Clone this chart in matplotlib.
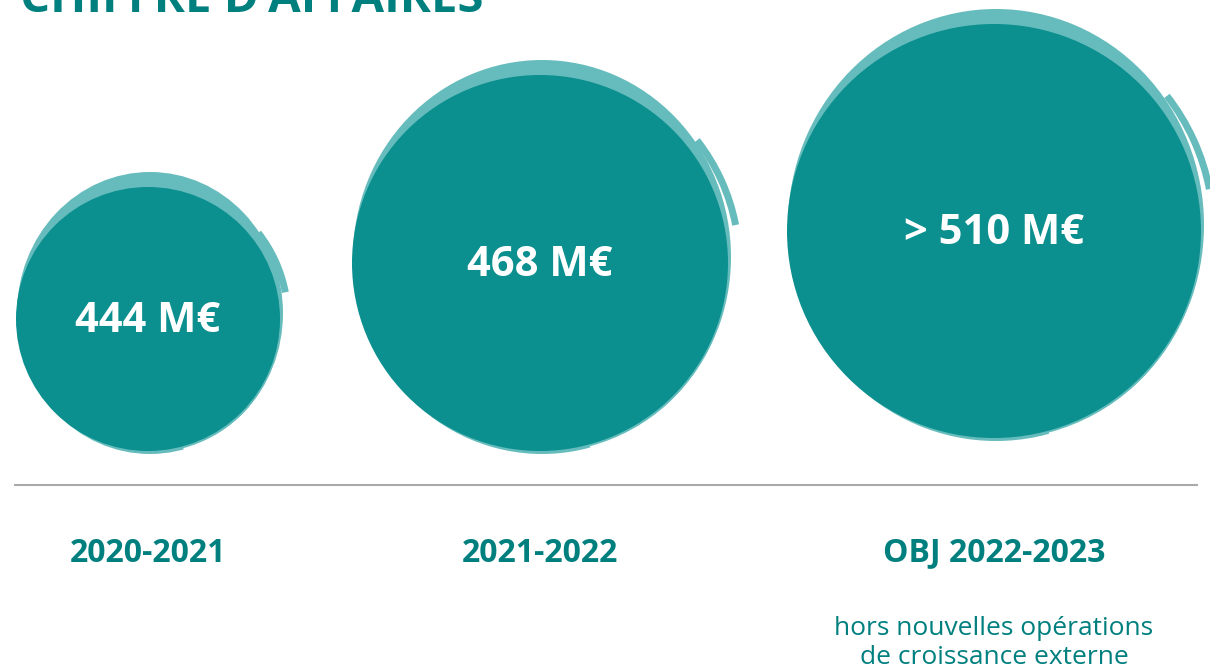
import matplotlib.pyplot as plt
from matplotlib.patches import Circle, Ellipse, Arc

# data
periods = ['2020-2021', '2021-2022', 'OBJ 2022-2023']
values = [444, 468, 510]
value_labels = ['444 M€', '468 M€', '> 510 M€']
note = 'hors nouvelles opérations\nde croissance externe'

# layout (pixels)
centers_x = [148, 540, 994]
centers_y = [319, 263, 231]
radii = [132, 188, 207]

dark = '#0b8f8f'
light = '#66bcbc'
teal_text = '#007f7f'

plt.rcParams['font.family'] = ['Open Sans', 'DejaVu Sans']

fig = plt.figure(figsize=(12.1, 6.69), dpi=100)
ax = fig.add_axes([0, 0, 1, 1])
ax.set_xlim(0, 1210)
ax.set_ylim(669, 0)
ax.set_aspect('equal')
ax.axis('off')

for cx, cy, r, lab in zip(centers_x, centers_y, radii, value_labels):
    # light brush behind
    ax.add_patch(Ellipse((cx + 2, cy - 6), 2 * r + 2, 2 * r + 18,
                         color=light, lw=0, zorder=1))
    ax.add_patch(Arc((cx, cy), 2 * r * 1.06, 2 * r * 1.06, theta1=-38, theta2=-11,
                     color=light, lw=5, zorder=1))
    # white gap on bottom right
    ax.add_patch(Arc((cx + 1, cy + 1), 2 * r + 3, 2 * r + 3, theta1=20, theta2=75,
                     color='white', lw=1.2, zorder=2))
    ax.add_patch(Circle((cx, cy), r, color=dark, lw=0, zorder=3))
    ax.text(cx, cy + 3, lab, color='white', fontsize=30, fontweight='bold',
            ha='center', va='center', zorder=4)

ax.plot([15, 1197], [485, 485], color='#aaaaaa', lw=1.5)

for cx, p in zip(centers_x, periods):
    ax.text(cx, 553, p, color=teal_text, fontsize=23, fontweight='bold',
            ha='center', va='center')

ax.text(centers_x[2], 643, note, color=teal_text, fontsize=19,
        ha='center', va='center', linespacing=1.25)

ax.text(20, 12, "CHIFFRE D'AFFAIRES", color=teal_text, fontsize=34,
        fontweight='bold', ha='left', va='baseline')

fig.savefig('out.png', dpi=100)
